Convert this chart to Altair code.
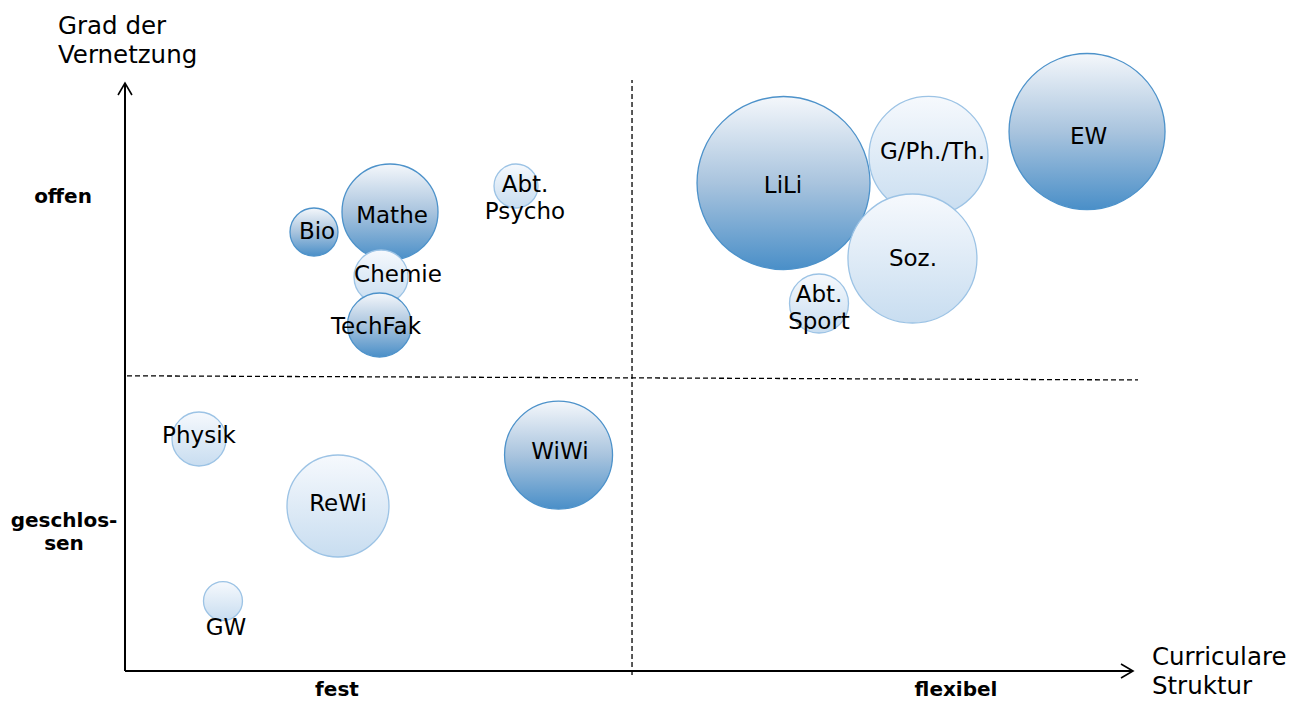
import altair as alt
import pandas as pd

# ---- data (in diagram units: x 0..100 "Curriculare Struktur", y 0..100 "Grad der Vernetzung")
names = ["Bio", "Mathe", "Chemie", "TechFak", "Abt. Psycho", "EW", "LiLi", "G/Ph./Th.", "Soz.",
         "Abt. Sport", "Physik", "ReWi", "WiWi", "GW"]
xs = [18.75, 26.29, 25.40, 25.25, 38.79, 95.44, 65.33, 79.71, 78.12, 68.85, 7.34, 21.13, 43.01, 9.72]
ys = [74.66, 78.06, 67.01, 58.84, 82.48, 91.75, 82.99, 87.59, 70.15, 62.50, 39.46, 28.06, 36.73, 11.90]
sizes = [5.76, 23.04, 7.29, 10.24, 4.84, 60.84, 74.82, 35.40, 41.60, 8.70, 7.29, 26.01, 29.16, 3.80]
kinds = ["dunkel", "dunkel", "hell", "dunkel", "hell", "dunkel", "dunkel", "hell", "hell",
         "hell", "hell", "hell", "dunkel", "hell"]

label_text = ["Bio", "Mathe", "Chemie", "TechFak", "Abt.\nPsycho", "EW", "LiLi", "G/Ph./Th.", "Soz.",
              "Abt.\nSport", "Physik", "ReWi", "WiWi", "GW"]
label_x = [19.05, 26.49, 27.08, 24.90, 39.68, 95.59, 65.28, 80.11, 78.17, 68.85, 7.34, 21.13, 43.15, 10.02]
label_y = [74.66, 77.38, 67.35, 58.50, 82.65, 90.82, 82.48, 88.27, 70.07, 63.95, 39.97, 28.40, 37.24, 7.31]

annot_text = ["Grad der\nVernetzung", "Curriculare\nStruktur"]
annot_x = [-6.65, 101.88]
annot_y = [108.33, 1.02]

cat_text = ["offen", "geschlos-\nsen", "fest", "flexibel"]
cat_x = [-6.15, -6.05, 21.03, 82.44]
cat_y = [79.59, 24.49, -4.25, -4.25]

axis_x0 = [0, 0]
axis_y0 = [0, 0]
axis_x1 = [100, 0]
axis_y1 = [0, 100]

dash_x0 = [50.3, 0.2]
dash_y0 = [-0.7, 50.2]
dash_x1 = [50.3, 100.5]
dash_y1 = [100.5, 49.5]

# ---- tables
bubbles = pd.DataFrame({"name": names, "x": xs, "y": ys, "groesse": sizes, "art": kinds})
labels = pd.DataFrame({"t": label_text, "x": label_x, "y": label_y})
annots = pd.DataFrame({"t": annot_text, "x": annot_x, "y": annot_y})
cats = pd.DataFrame({"t": cat_text, "x": cat_x, "y": cat_y})
axes = pd.DataFrame({"x": axis_x0, "y": axis_y0, "x2": axis_x1, "y2": axis_y1})
arrow_r = pd.DataFrame({"x": [axis_x1[0]], "y": [axis_y1[0]]})
arrow_u = pd.DataFrame({"x": [axis_x1[1]], "y": [axis_y1[1]]})
dashes = pd.DataFrame({"x": dash_x0, "y": dash_y0, "x2": dash_x1, "y2": dash_y1})

W, H = 1281, 694
xscale = alt.Scale(domain=[-11.607, 115.476], nice=False, zero=False)
yscale = alt.Scale(domain=[-5.272, 112.755], nice=False, zero=False)
X = alt.X("x:Q", scale=xscale, axis=None)
Y = alt.Y("y:Q", scale=yscale, axis=None)

FONT = "DejaVu Sans"

grad_dark = alt.Gradient(gradient="linear", x1=0, y1=0, x2=0, y2=1,
                         stops=[alt.GradientStop(color="#f4f7fb", offset=0),
                                alt.GradientStop(color="#a9c4de", offset=0.5),
                                alt.GradientStop(color="#4a8fc8", offset=1)])
grad_light = alt.Gradient(gradient="linear", x1=0, y1=0, x2=0, y2=1,
                          stops=[alt.GradientStop(color="#f6f9fd", offset=0),
                                 alt.GradientStop(color="#c8ddf0", offset=1)])

bubble_layer = alt.Chart(bubbles).mark_point(filled=True, shape="circle", opacity=1,
                                             strokeWidth=1.3).encode(
    x=X, y=Y,
    size=alt.Size("groesse:Q", scale=alt.Scale(domain=[0, 100], range=[0, 40000]), legend=None),
    fill=alt.condition(alt.datum.art == "dunkel", alt.value(grad_dark), alt.value(grad_light)),
    stroke=alt.condition(alt.datum.art == "dunkel", alt.value("#4d92ca"), alt.value("#9cc3e5")),
)

label_layer = alt.Chart(labels).mark_text(font=FONT, fontSize=23, color="#000000",
                                          align="center", baseline="middle",
                                          lineBreak="\n", lineHeight=27).encode(
    x=X, y=Y, text="t:N")

annot_layer = alt.Chart(annots).mark_text(font=FONT, fontSize=24.5, color="#000000",
                                          align="left", baseline="alphabetic",
                                          lineBreak="\n", lineHeight=29).encode(
    x=X, y=Y, text="t:N")

cat_layer = alt.Chart(cats).mark_text(font=FONT, fontSize=20, fontWeight="bold", color="#000000",
                                      align="center", baseline="alphabetic",
                                      lineBreak="\n", lineHeight=23).encode(
    x=X, y=Y, text="t:N")

axis_layer = alt.Chart(axes).mark_rule(color="#000000", strokeWidth=2).encode(
    x=X, y=Y, x2="x2:Q", y2="y2:Q")

arrow_r_layer = alt.Chart(arrow_r).mark_point(shape="M-1,-0.58L0,0L-1,0.58", size=576,
                                              filled=False, color="#000000", strokeWidth=1.6,
                                              opacity=1).encode(x=X, y=Y)
arrow_u_layer = alt.Chart(arrow_u).mark_point(shape="M-0.58,1L0,0L0.58,1", size=576,
                                              filled=False, color="#000000", strokeWidth=1.6,
                                              opacity=1).encode(x=X, y=Y)

dash_layer = alt.Chart(dashes).mark_rule(color="#000000", strokeWidth=1.3, strokeDash=[5, 3]).encode(
    x=X, y=Y, x2="x2:Q", y2="y2:Q")

chart = alt.layer(
    dash_layer, axis_layer, arrow_r_layer, arrow_u_layer, bubble_layer,
    label_layer, annot_layer, cat_layer
).properties(
    width=W, height=H, padding=0,
    autosize=alt.AutoSizeParams(type="none")
).configure(
    background="#ffffff", view=alt.ViewConfig(stroke=None)
)

chart.save("out.html", embed_options={"renderer": "svg", "actions": False})
